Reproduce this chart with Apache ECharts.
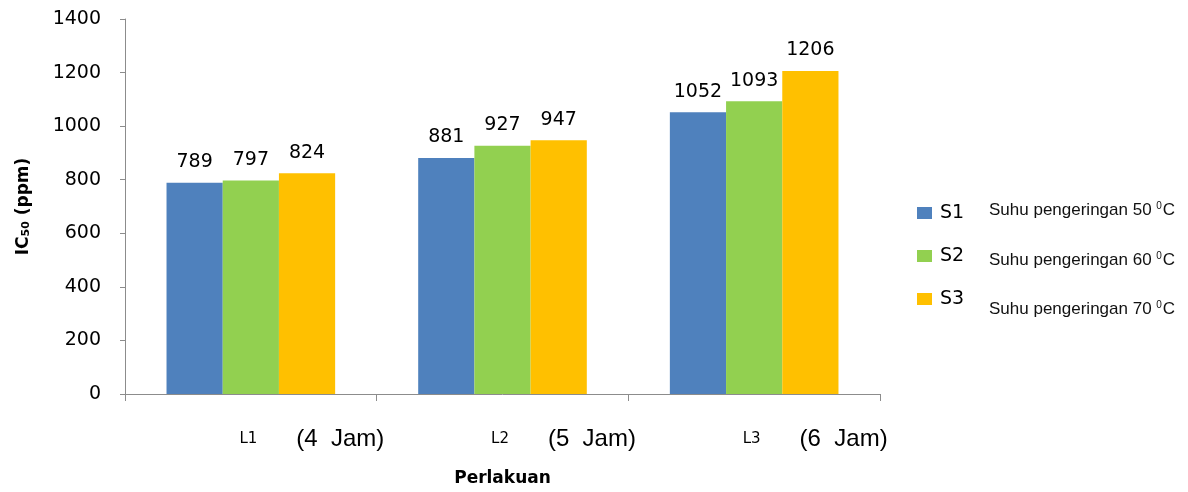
<!DOCTYPE html>
<html>
<head>
<meta charset="utf-8">
<script src="https://cdn.jsdelivr.net/npm/echarts@6/dist/echarts.min.js"></script>
<style>
  html, body { margin: 0; padding: 0; background: #ffffff; }
  #chart { width: 1188px; height: 492px; }
</style>
</head>
<body>
<div id="chart"></div>
<script>
// Treatment groups (drying time) and their duration labels
const categories = ['L1', 'L2', 'L3'];
const durations = ['(4  Jam)', '(5  Jam)', '(6  Jam)'];

// IC50 values (ppm) per drying temperature
const seriesNames = ['S1', 'S2', 'S3'];
const s1 = [789, 881, 1052];
const s2 = [797, 927, 1093];
const s3 = [824, 947, 1206];
const temperatures = ['50', '60', '70'];

const colors = ['#4F81BD', '#92D050', '#FFC000'];
const axisGrey = '#8C8C8C';
const numFont = 'DejaVu Sans';

const chart = echarts.init(document.getElementById('chart'), null, { renderer: 'canvas' });

const values = [s1, s2, s3];

const barSeries = seriesNames.map((name, i) => ({
  name: name,
  type: 'bar',
  data: values[i],
  barGap: '0%',
  barCategoryGap: '33%',
  itemStyle: { color: colors[i] },
  label: {
    show: true,
    position: 'top',
    distance: 11,
    color: '#000',
    fontFamily: numFont,
    fontSize: 19
  }
}));

// Temperature descriptions next to the legend entries
const descTop = [211, 261, 310];
const descriptions = temperatures.map((t, i) => ({
  type: 'text',
  left: 989,
  top: descTop[i] - 10,
  style: {
    text: '{t|Suhu pengeringan ' + t + ' }{sup|0}{t|C}',
    rich: {
      t: { fontFamily: 'Liberation Sans', fontSize: 17, fill: '#111', lineHeight: 20 },
      sup: { fontFamily: 'Liberation Sans', fontSize: 10, fill: '#111', padding: [0, 1, 9, 0] }
    }
  }
}));

chart.setOption({
  animation: false,
  color: colors,
  grid: { left: 125, right: 308, top: 19, bottom: 98, containLabel: false },
  legend: {
    data: seriesNames,
    orient: 'vertical',
    left: 912,
    top: 197,
    icon: 'rect',
    itemWidth: 15,
    itemHeight: 12,
    itemGap: 21,
    textStyle: { fontFamily: numFont, fontSize: 19, color: '#000', lineHeight: 20, padding: [2, 0, 0, 3] }
  },
  xAxis: {
    type: 'category',
    data: categories,
    name: 'Perlakuan',
    nameLocation: 'middle',
    nameGap: 76,
    nameTextStyle: { fontFamily: numFont, fontWeight: 'bold', fontSize: 17, color: '#000' },
    axisLine: { lineStyle: { color: axisGrey, width: 1 } },
    axisTick: { show: true, length: 7, lineStyle: { color: axisGrey } },
    axisLabel: {
      interval: 0,
      margin: 33,
      color: '#000',
      formatter: (v, idx) => '{s|}{a|' + v + '}{b|' + durations[idx] + '}',
      rich: {
        s: { width: 122 },
        a: { fontFamily: numFont, fontSize: 15, color: '#000' },
        b: { fontFamily: 'Liberation Sans', fontSize: 24, color: '#000', padding: [0, 0, 0, 39] }
      }
    }
  },
  yAxis: {
    type: 'value',
    min: 0,
    max: 1400,
    interval: 200,
    name: '{m|IC}{sub|50}{m| (ppm)}',
    nameLocation: 'middle',
    nameGap: 93,
    nameRotate: 90,
    nameTextStyle: {
      rich: {
        m: { fontFamily: numFont, fontWeight: 'bold', fontSize: 17, color: '#000' },
        sub: { fontFamily: numFont, fontWeight: 'bold', fontSize: 11, color: '#000', padding: [6, 0, 0, 0] }
      }
    },
    axisLine: { show: true, lineStyle: { color: axisGrey, width: 1 } },
    axisTick: { show: true, length: 5, lineStyle: { color: axisGrey } },
    splitLine: { show: false },
    axisLabel: {
      margin: 24,
      color: '#000',
      fontFamily: numFont,
      fontSize: 19,
      formatter: (v) => String(v)
    }
  },
  graphic: descriptions,
  series: barSeries
});
</script>
</body>
</html>
